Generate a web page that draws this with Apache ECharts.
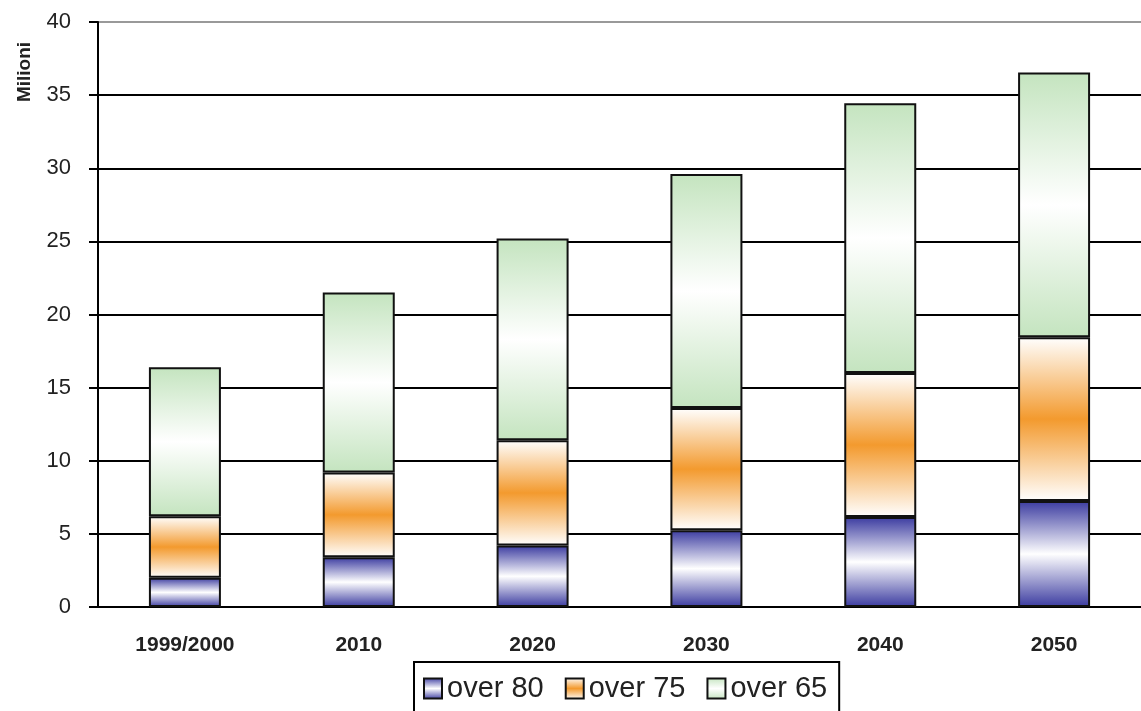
<!DOCTYPE html>
<html>
<head>
<meta charset="utf-8">
<script src="https://cdn.jsdelivr.net/npm/echarts@6/dist/echarts.min.js"></script>
<style>
  html, body { margin: 0; padding: 0; background: #fff; }
  #chart { width: 1141px; height: 711px; }
</style>
</head>
<body>
<div id="chart"></div>
<script>
// categorie (anni)
var years = ['1999/2000', '2010', '2020', '2030', '2040', '2050'];
// altezza di ogni fascia impilata, in milioni
var over80 = [2.0, 3.4, 4.2, 5.25, 6.15, 7.25];
var over75 = [4.2, 5.8, 7.2, 8.35, 9.85, 11.2];
var over65 = [10.2, 12.3, 13.8, 16.0, 18.45, 18.1];
var yTicks = [0, 5, 10, 15, 20, 25, 30, 35, 40];

var chart = echarts.init(document.getElementById('chart'));

// gradienti verticali come nell'originale
function grad(edge, mid) {
    return new echarts.graphic.LinearGradient(0, 0, 0, 1, [
        { offset: 0, color: edge },
        { offset: 0.5, color: mid },
        { offset: 1, color: edge }
    ]);
}

var barStyle = function(color) {
    return { color: color, borderColor: '#111', borderWidth: 2 };
};

var gridColors = yTicks.map(function(v) { return v === 40 ? '#999' : '#000'; });

var option = {
    animation: false,
    grid: { left: 98, right: -7, top: 22, bottom: 104 },
    legend: {
        left: 414,
        top: 662,
        padding: [12, 12, 14, 9],
        borderColor: '#000',
        borderWidth: 2,
        itemWidth: 18,
        itemHeight: 20,
        itemGap: 21,
        icon: 'rect',
        textStyle: { fontFamily: 'Liberation Sans', fontSize: 29, color: '#222' },
        data: ['over 80', 'over 75', 'over 65']
    },
    xAxis: {
        type: 'category',
        data: years,
        axisLine: { lineStyle: { color: '#000', width: 2 } },
        axisTick: { length: 8, lineStyle: { color: '#000', width: 2 } },
        axisLabel: { margin: 28, fontFamily: 'Liberation Sans', fontWeight: 'bold', fontSize: 21, color: '#222' }
    },
    yAxis: {
        type: 'value',
        min: 0,
        max: 40,
        interval: 5,
        axisLine: { show: true, lineStyle: { color: '#000', width: 2 } },
        axisTick: { show: true, length: 9, lineStyle: { color: '#000', width: 2 } },
        axisLabel: { margin: 27, fontFamily: 'Liberation Sans', fontSize: 22, color: '#222' },
        splitLine: { lineStyle: { color: gridColors, width: 2 } }
    },
    graphic: [{
        type: 'text',
        x: 25,
        y: 72,
        rotation: Math.PI / 2,
        style: {
            text: 'Milioni',
            font: 'bold 19px "Liberation Sans"',
            fill: '#222',
            align: 'center',
            verticalAlign: 'middle'
        }
    }],
    series: [
        {
            name: 'over 80', type: 'bar', stack: 'tot', barWidth: 72,
            itemStyle: barStyle(grad('#3b3ba0', '#ffffff')),
            data: over80
        },
        {
            name: 'over 75', type: 'bar', stack: 'tot', barWidth: 72,
            itemStyle: barStyle(grad('#ffffff', '#f39a2e')),
            data: over75
        },
        {
            name: 'over 65', type: 'bar', stack: 'tot', barWidth: 72,
            itemStyle: barStyle(grad('#c4e4bf', '#ffffff')),
            data: over65
        }
    ]
};

chart.setOption(option);
</script>
</body>
</html>
